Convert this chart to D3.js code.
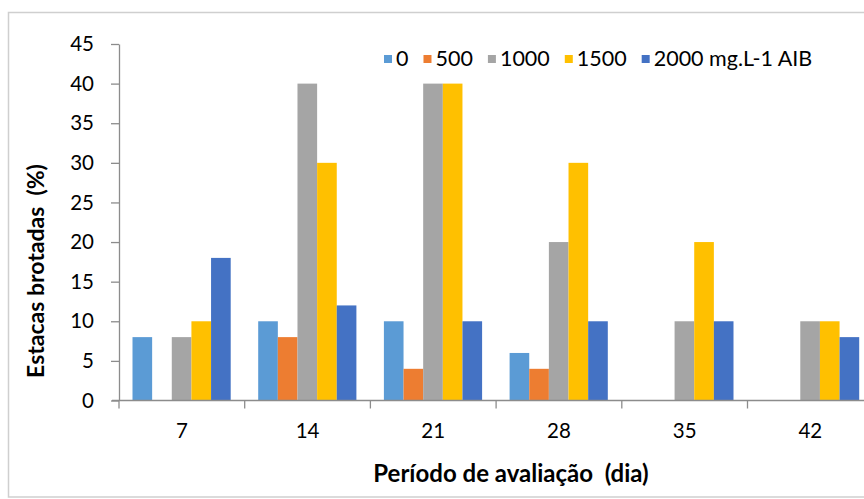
<!DOCTYPE html>
<html>
<head>
<meta charset="utf-8">
<script src="https://cdn.jsdelivr.net/npm/d3@7"></script>
<style>
  body { margin: 0; background: #fff; }
  svg text { font-family: Lato, "Open Sans", sans-serif; fill: #000; white-space: pre; }
</style>
</head>
<body>
<svg id="chart"></svg>
<script>
// Categories (evaluation day) and series (AIB dose)
const days = ["7", "14", "21", "28", "35", "42"];
const doses = ["0", "500", "1000", "1500", "2000 mg.L-1 AIB"];
const colors = ["#5B9BD5", "#ED7D31", "#A5A5A5", "#FFC000", "#4472C4"];

// Percent of sprouted cuttings, one array per dose
const dose0 = [8, 10, 10, 6, 0, 0];
const dose500 = [0, 8, 4, 4, 0, 0];
const dose1000 = [8, 40, 40, 20, 10, 10];
const dose1500 = [10, 30, 40, 30, 20, 10];
const dose2000 = [18, 12, 10, 10, 10, 8];
const seriesValues = [dose0, dose500, dose1000, dose1500, dose2000];

const yTicks = [0, 5, 10, 15, 20, 25, 30, 35, 40, 45];

const width = 864;
const height = 499;
const axisColor = "#8c8c8c";

const svg = d3.select("#chart")
  .attr("width", width)
  .attr("height", height);

// Chart area border (right edge runs past the picture)
svg.append("rect")
  .attr("x", 8.5)
  .attr("y", 12.5)
  .attr("width", 900)
  .attr("height", 484.5)
  .attr("fill", "none")
  .attr("stroke", "#cfcfcf")
  .attr("stroke-width", 1.5);

// Scales
const x = d3.scaleBand()
  .domain(days)
  .range([119, 119 + 6 * 125.7]);

const xInner = d3.scaleBand()
  .domain(doses)
  .range([13.5, x.bandwidth() - 14]);

const y = d3.scaleLinear()
  .domain([0, 45])
  .range([400.5, 44]);

// Bars
const groups = svg.append("g")
  .selectAll("g")
  .data(doses)
  .enter().append("g")
  .attr("fill", (d, i) => colors[i]);

groups.selectAll("rect")
  .data((dose, i) => seriesValues[i].map((v, j) => ({ day: days[j], dose, v })))
  .enter().append("rect")
  .attr("x", d => x(d.day) + xInner(d.dose))
  .attr("y", d => y(d.v))
  .attr("width", xInner.bandwidth())
  .attr("height", d => y(0) - y(d.v));

// Y axis
const yAxis = svg.append("g")
  .attr("transform", "translate(119,0)")
  .call(d3.axisLeft(y).tickValues(yTicks).tickSize(8).tickSizeOuter(0).tickPadding(17));
yAxis.select(".domain").attr("stroke", axisColor).attr("stroke-width", 1.3);
yAxis.selectAll(".tick line").attr("stroke", axisColor).attr("stroke-width", 1.3);
yAxis.selectAll(".tick text")
  .attr("font-size", "20.5px")
  .attr("fill", "#000")
  .style("font-family", "Lato, sans-serif");

// X axis: line, boundary ticks and centred labels
const xAxis = svg.append("g");
xAxis.append("line")
  .attr("x1", 112)
  .attr("x2", x.range()[1])
  .attr("y1", y(0))
  .attr("y2", y(0))
  .attr("stroke", axisColor)
  .attr("stroke-width", 1.3);

xAxis.selectAll("line.tick")
  .data(days.map(d => x(d)).concat([x.range()[1]]))
  .enter().append("line")
  .attr("class", "tick")
  .attr("x1", d => d)
  .attr("x2", d => d)
  .attr("y1", y(0))
  .attr("y2", y(0) + 8)
  .attr("stroke", axisColor)
  .attr("stroke-width", 1.3);

xAxis.selectAll("text")
  .data(days)
  .enter().append("text")
  .attr("x", d => x(d) + x.bandwidth() / 2)
  .attr("y", 438)
  .attr("text-anchor", "middle")
  .attr("font-size", "20.5px")
  .text(d => d);

// Axis titles
svg.append("text")
  .attr("x", 511)
  .attr("y", 482)
  .attr("text-anchor", "middle")
  .attr("font-size", "24px")
  .attr("font-weight", "bold")
  .text("Período de avaliação  (dia)");

svg.append("text")
  .attr("transform", "translate(44,271) rotate(-90)")
  .attr("text-anchor", "middle")
  .attr("font-size", "23px")
  .attr("font-weight", "bold")
  .text("Estacas brotadas  (%)");

// Legend, laid out item by item from measured text widths
const legend = svg.append("g");
let lx = 384;
doses.forEach((dose, i) => {
  legend.append("rect")
    .attr("x", lx)
    .attr("y", 55)
    .attr("width", 8)
    .attr("height", 8)
    .attr("fill", colors[i]);
  const t = legend.append("text")
    .attr("x", lx + 12)
    .attr("y", 66)
    .attr("font-size", "21.5px")
    .text(dose);
  lx += 12 + t.node().getComputedTextLength() + 15;
});
</script>
</body>
</html>
